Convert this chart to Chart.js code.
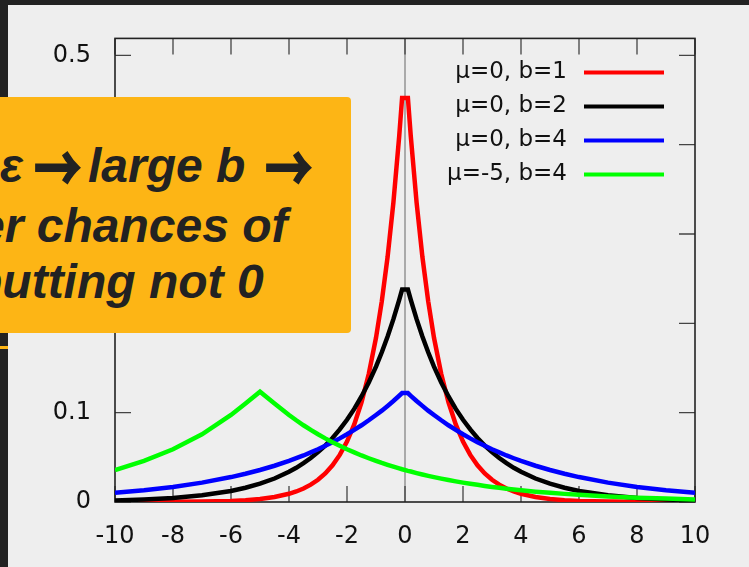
<!DOCTYPE html>
<html>
<head>
<meta charset="utf-8">
<script src="https://cdn.jsdelivr.net/npm/chart.js@4.4.1/dist/chart.umd.min.js"></script>
<style>
  html, body { margin: 0; padding: 0; }
  body { width: 749px; height: 567px; position: relative; overflow: hidden; background: #eeeeee; }
  #chart { position: absolute; left: 0; top: 0; }
  .strip { position: absolute; background: #222222; }
  .note { position: absolute; left: 0; top: 97px; width: 351px; height: 236px; background: #fdb515;
          border-radius: 0 4px 4px 0; overflow: hidden; }
  .note div { position: absolute; white-space: pre; font-family: "Liberation Sans", Arial, sans-serif;
              font-weight: bold; font-style: italic; font-size: 48px; line-height: 58px; color: #222; }
  .note div.arr { font-family: "Noto Sans CJK SC", sans-serif; font-style: normal; font-weight: bold;
                  font-size: 64px; line-height: 64px; -webkit-text-stroke: 2px #222;
                  transform: scaleX(0.74); transform-origin: left center; }
</style>
</head>
<body>
<div class="strip" style="left:0;top:0;width:749px;height:5px"></div>
<div class="strip" style="left:0;top:0;width:8px;height:567px"></div>
<div style="position:absolute;left:0;top:346px;width:8px;height:3px;background:#fdb515"></div>
<canvas id="chart" width="749" height="567"></canvas>
<div class="note">
  <div style="left:0px;top:40px">ε</div>
  <div class="arr" style="left:34px;top:35px">→</div>
  <div style="left:88px;top:40px">large b</div>
  <div class="arr" style="left:265px;top:35px">→</div>
  <div style="left:-22px;top:100px">er chances of</div>
  <div style="left:-27px;top:156px">putting not 0</div>
</div>
<script>
// sample positions along x
const xs = [-10, -9, -8, -7, -6, -5.5, -5, -4.5, -4, -3.75, -3.5, -3.25, -3, -2.75, -2.5, -2.25, -2, -1.75, -1.5, -1.25, -1, -0.8, -0.6, -0.4, -0.2, -0.1,
            0.1, 0.2, 0.4, 0.6, 0.8, 1, 1.25, 1.5, 1.75, 2, 2.25, 2.5, 2.75, 3, 3.25, 3.5, 3.75, 4, 4.5, 5, 5.5, 6, 7, 8, 9, 10];

const seriesLabels = ['μ=0, b=1', 'μ=0, b=2', 'μ=0, b=4', 'μ=-5, b=4'];

const redVals = [0.0000, 0.0001, 0.0002, 0.0005, 0.0012, 0.0020, 0.0034, 0.0056, 0.0092, 0.0118, 0.0151, 0.0194, 0.0249, 0.0320, 0.0410, 0.0527, 0.0677, 0.0869, 0.1116, 0.1433, 0.1839, 0.2247, 0.2744, 0.3352, 0.4094, 0.4524,
                 0.4524, 0.4094, 0.3352, 0.2744, 0.2247, 0.1839, 0.1433, 0.1116, 0.0869, 0.0677, 0.0527, 0.0410, 0.0320, 0.0249, 0.0194, 0.0151, 0.0118, 0.0092, 0.0056, 0.0034, 0.0020, 0.0012, 0.0005, 0.0002, 0.0001, 0.0000];
const blackVals = [0.0017, 0.0028, 0.0046, 0.0075, 0.0124, 0.0160, 0.0205, 0.0263, 0.0338, 0.0383, 0.0435, 0.0492, 0.0558, 0.0632, 0.0716, 0.0812, 0.0920, 0.1042, 0.1181, 0.1338, 0.1516, 0.1676, 0.1852, 0.2047, 0.2262, 0.2378,
                   0.2378, 0.2262, 0.2047, 0.1852, 0.1676, 0.1516, 0.1338, 0.1181, 0.1042, 0.0920, 0.0812, 0.0716, 0.0632, 0.0558, 0.0492, 0.0435, 0.0383, 0.0338, 0.0263, 0.0205, 0.0160, 0.0124, 0.0075, 0.0046, 0.0028, 0.0017];
const blueVals = [0.0103, 0.0132, 0.0169, 0.0217, 0.0279, 0.0316, 0.0358, 0.0406, 0.0460, 0.0490, 0.0521, 0.0555, 0.0590, 0.0629, 0.0669, 0.0712, 0.0758, 0.0807, 0.0859, 0.0915, 0.0974, 0.1023, 0.1076, 0.1131, 0.1189, 0.1219,
                  0.1219, 0.1189, 0.1131, 0.1076, 0.1023, 0.0974, 0.0915, 0.0859, 0.0807, 0.0758, 0.0712, 0.0669, 0.0629, 0.0590, 0.0555, 0.0521, 0.0490, 0.0460, 0.0406, 0.0358, 0.0316, 0.0279, 0.0217, 0.0169, 0.0132, 0.0103];
const greenVals = [0.0358, 0.0460, 0.0590, 0.0758, 0.0974, 0.1103, 0.1235, 0.1103, 0.0974, 0.0915, 0.0859, 0.0807, 0.0758, 0.0712, 0.0669, 0.0629, 0.0590, 0.0555, 0.0521, 0.0490, 0.0460, 0.0437, 0.0416, 0.0396, 0.0377, 0.0367,
                   0.0349, 0.0341, 0.0324, 0.0308, 0.0293, 0.0279, 0.0262, 0.0246, 0.0231, 0.0217, 0.0204, 0.0192, 0.0180, 0.0169, 0.0159, 0.0149, 0.0140, 0.0132, 0.0116, 0.0103, 0.0091, 0.0080, 0.0062, 0.0048, 0.0038, 0.0029];

const colors = ['#ff0000', '#000000', '#0000ff', '#00ff00'];
const allVals = [redVals, blackVals, blueVals, greenVals];

const toPoints = vals => xs.map((x, i) => ({ x: x, y: vals[i] }));

// gnuplot style frame: inward ticks on all 4 sides + zero axis
const framePlugin = {
    id: 'frame',
    beforeDatasetsDraw(chart) {
        const { ctx, chartArea: a, scales: { x, y } } = chart;
        ctx.save();
        // zero axis
        const x0 = x.getPixelForValue(0);
        ctx.strokeStyle = '#666';
        ctx.lineWidth = 1;
        ctx.beginPath();
        ctx.moveTo(x0, a.top);
        ctx.lineTo(x0, a.bottom);
        ctx.stroke();
        // ticks
        ctx.strokeStyle = '#444';
        ctx.lineWidth = 1.3;
        ctx.beginPath();
        x.ticks.forEach(t => {
            const px = x.getPixelForValue(t.value);
            ctx.moveTo(px, a.bottom); ctx.lineTo(px, a.bottom - 16);
            ctx.moveTo(px, a.top); ctx.lineTo(px, a.top + 16);
        });
        y.ticks.forEach(t => {
            const py = y.getPixelForValue(t.value);
            ctx.moveTo(a.left, py); ctx.lineTo(a.left + 16, py);
            ctx.moveTo(a.right, py); ctx.lineTo(a.right - 16, py);
        });
        ctx.stroke();
        ctx.strokeStyle = '#222';
        ctx.lineWidth = 1.6;
        ctx.strokeRect(a.left, a.top, a.right - a.left, a.bottom - a.top);
        ctx.restore();
    },
    afterDatasetsDraw(chart) {
        // legend: text right aligned, sample line after it
        const { ctx, chartArea: a } = chart;
        ctx.save();
        ctx.font = '23px "DejaVu Sans"';
        ctx.textAlign = 'right';
        ctx.textBaseline = 'middle';
        chart.data.datasets.forEach((ds, i) => {
            const yy = a.top + 34 + i * 34;
            ctx.fillStyle = '#111';
            ctx.fillText(ds.label, a.right - 128, yy);
            ctx.strokeStyle = ds.borderColor;
            ctx.lineWidth = 4;
            ctx.beginPath();
            ctx.moveTo(a.right - 111, yy);
            ctx.lineTo(a.right - 31, yy);
            ctx.stroke();
        });
        ctx.restore();
    }
};

new Chart(document.getElementById('chart'), {
    type: 'line',
    data: {
        datasets: seriesLabels.map((label, i) => ({
            label: label,
            data: toPoints(allVals[i]),
            borderColor: colors[i],
            borderWidth: 4.5,
            pointRadius: 0,
            tension: 0,
            fill: false,
            order: 4 - i // green on top, like gnuplot
        }))
    },
    options: {
        responsive: false,
        animation: false,
        layout: { padding: { left: 15, right: 54, top: 36, bottom: 9 } },
        plugins: {
            legend: { display: false },
            tooltip: { enabled: false }
        },
        scales: {
            x: {
                type: 'linear',
                min: -10,
                max: 10,
                ticks: { stepSize: 2, padding: 20, color: '#111', font: { family: 'DejaVu Sans', size: 24 } },
                grid: { display: false, drawTicks: false },
                border: { display: false },
                afterFit: s => { s.height = 56; }
            },
            y: {
                min: 0,
                max: 0.519,
                ticks: { stepSize: 0.1, includeBounds: false, padding: 24, color: '#111', font: { family: 'DejaVu Sans', size: 24 } },
                grid: { display: false, drawTicks: false },
                border: { display: false },
                afterFit: s => { s.width = 100; }
            }
        }
    },
    plugins: [framePlugin]
});
</script>
</body>
</html>
